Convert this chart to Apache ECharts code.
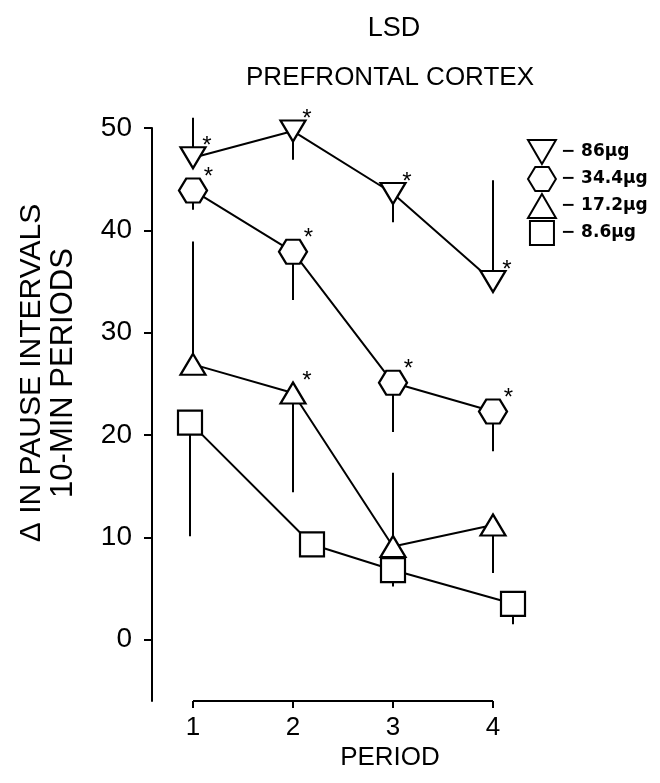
<!DOCTYPE html>
<html>
<head>
<meta charset="utf-8">
<script src="https://cdn.jsdelivr.net/npm/echarts@6/dist/echarts.min.js"></script>
<style>
  html, body { margin: 0; padding: 0; background: #fff; }
  #main { width: 660px; height: 783px; }
</style>
</head>
<body>
<div id="main"></div>
<script>
// data
var periods = [1, 2, 3, 4];
var squarePeriods = [0.97, 2.19, 3, 4.2];
var xTicks = [1, 2, 3, 4];
var yTicks = [0, 10, 20, 30, 40, 50];
var doseNames = ['86 µg', '34.4 µg', '17.2 µg', '8.6 µg'];

var dose86 = [47.1, 49.7, 43.6, 35.0];
var err86 = [51.0, 46.9, 40.8, 44.9];
var star86 = [1, 1, 1, 1];

var dose34 = [43.9, 37.9, 25.1, 22.3];
var err34 = [42.0, 33.2, 20.3, 18.4];
var star34 = [1, 1, 1, 1];

var dose17 = [26.9, 24.1, 9.1, 11.2];
var err17 = [38.9, 14.4, 16.3, 6.5];
var star17 = [0, 1, 0, 0];

var dose8 = [21.2, 9.3, 6.8, 3.5];
var err8 = [10.1, null, 5.2, 1.5];
var star8 = [0, 0, 0, 0];

var downTri = 'path://M0,0 L10,0 L5,8.6 Z';
var hexagon = 'path://M2.6,0 L7.4,0 L10,4.3 L7.4,8.6 L2.6,8.6 L0,4.3 Z';
var upTri = 'path://M5,0 L10,8.6 L0,8.6 Z';
var square = 'path://M0,0 L10,0 L10,10 L0,10 Z';

var font = 'Liberation Sans, Arial, sans-serif';
var yMin = -6;

function pts(xs, ys, stars, size) {
    return ys.map(function (v, i) {
        var item = { value: [xs[i], v] };
        if (stars[i]) {
            item.label = {
                show: true,
                formatter: '*',
                position: [size[0] - 2, -12],
                fontSize: 24,
                fontFamily: font,
                color: '#000'
            };
        }
        return item;
    });
}

function bars(xs, ys, ends) {
    var out = [];
    ys.forEach(function (v, i) {
        if (ends[i] != null) out.push([xs[i], v, ends[i]]);
    });
    return out;
}

function lineSeries(name, xs, ys, stars, symbol, size) {
    return {
        name: name,
        type: 'line',
        data: pts(xs, ys, stars, size),
        symbol: symbol,
        symbolSize: size,
        showAllSymbol: true,
        clip: false,
        z: 3,
        lineStyle: { color: '#000', width: 2 },
        itemStyle: { color: '#fff', borderColor: '#000', borderWidth: 2.2 },
        emphasis: { disabled: true }
    };
}

function errSeries(data) {
    return {
        type: 'custom',
        data: data,
        z: 2,
        clip: false,
        renderItem: function (params, api) {
            var a = api.coord([api.value(0), api.value(1)]);
            var b = api.coord([api.value(0), api.value(2)]);
            return {
                type: 'line',
                shape: { x1: a[0], y1: a[1], x2: b[0], y2: b[1] },
                style: { stroke: '#000', lineWidth: 2 }
            };
        }
    };
}

// x baseline only spans the periods 1..4
var baseline = {
    type: 'custom',
    data: [[xTicks[0], xTicks[xTicks.length - 1]]],
    z: 2,
    clip: false,
    renderItem: function (params, api) {
        var a = api.coord([api.value(0), yMin]);
        var b = api.coord([api.value(1), yMin]);
        return {
            type: 'line',
            shape: { x1: a[0], y1: a[1], x2: b[0], y2: b[1] },
            style: { stroke: '#000', lineWidth: 2 }
        };
    }
};

var myChart = echarts.init(document.getElementById('main'));
var option = {
    backgroundColor: '#fff',
    animation: false,
    title: [
        { text: 'LSD', left: 389, top: 10, textAlign: 'center',
          textStyle: { fontSize: 27, fontWeight: 'normal', fontFamily: font, color: '#000' } },
        { text: 'PREFRONTAL CORTEX', left: 385, top: 60, textAlign: 'center',
          textStyle: { fontSize: 26, fontWeight: 'normal', fontFamily: font, color: '#000' } }
    ],
    legend: {
        orient: 'vertical',
        left: 522,
        top: 134,
        itemWidth: 28,
        itemHeight: 24,
        itemGap: 1,
        selectedMode: false,
        data: [
            { name: doseNames[0], icon: downTri },
            { name: doseNames[1], icon: hexagon },
            { name: doseNames[2], icon: upTri },
            { name: doseNames[3], icon: square }
        ],
        itemStyle: { color: '#fff', borderColor: '#000', borderWidth: 2 },
        formatter: function (n) { return '\u2212 ' + n.replace(' ', ''); },
        textStyle: { fontSize: 17, fontWeight: 'bold', fontFamily: 'DejaVu Sans', color: '#000' }
    },
    grid: { left: 193, right: 142, top: 128, bottom: 82 },
    xAxis: {
        type: 'value',
        min: 1,
        max: 4.25,
        axisLine: { show: false, onZero: false },
        axisTick: { show: true, customValues: xTicks, length: 7, lineStyle: { color: '#000', width: 2 } },
        axisLabel: { customValues: xTicks, fontSize: 26, margin: 14, color: '#000', fontFamily: font },
        splitLine: { show: false }
    },
    yAxis: {
        type: 'value',
        min: yMin,
        max: 50,
        offset: 41,
        axisLine: { show: true, lineStyle: { color: '#000', width: 2 } },
        axisTick: { show: true, customValues: yTicks, length: 8, lineStyle: { color: '#000', width: 2 } },
        axisLabel: { customValues: yTicks, fontSize: 28, margin: 20, color: '#000', fontFamily: font },
        splitLine: { show: false }
    },
    graphic: [
        { type: 'text', x: 32, y: 373, rotation: Math.PI / 2,
          style: { text: '\u0394 IN PAUSE INTERVALS', fontSize: 30, fontFamily: font, fill: '#000',
                   textAlign: 'center', textVerticalAlign: 'middle' } },
        { type: 'text', x: 63, y: 373, rotation: Math.PI / 2,
          style: { text: '10-MIN PERIODS', fontSize: 31, fontFamily: font, fill: '#000',
                   textAlign: 'center', textVerticalAlign: 'middle' } },
        { type: 'text', x: 390, y: 758,
          style: { text: 'PERIOD', fontSize: 26, fontFamily: font, fill: '#000',
                   textAlign: 'center', textVerticalAlign: 'middle' } }
    ],
    series: [
        baseline,
        errSeries(bars(periods, dose86, err86)),
        errSeries(bars(periods, dose34, err34)),
        errSeries(bars(periods, dose17, err17)),
        errSeries(bars(squarePeriods, dose8, err8)),
        lineSeries(doseNames[0], periods, dose86, star86, downTri, [25, 21]),
        lineSeries(doseNames[1], periods, dose34, star34, hexagon, [28, 24]),
        lineSeries(doseNames[2], periods, dose17, star17, upTri, [25, 21]),
        lineSeries(doseNames[3], squarePeriods, dose8, star8, square, [24, 24])
    ]
};
myChart.setOption(option);
</script>
</body>
</html>
